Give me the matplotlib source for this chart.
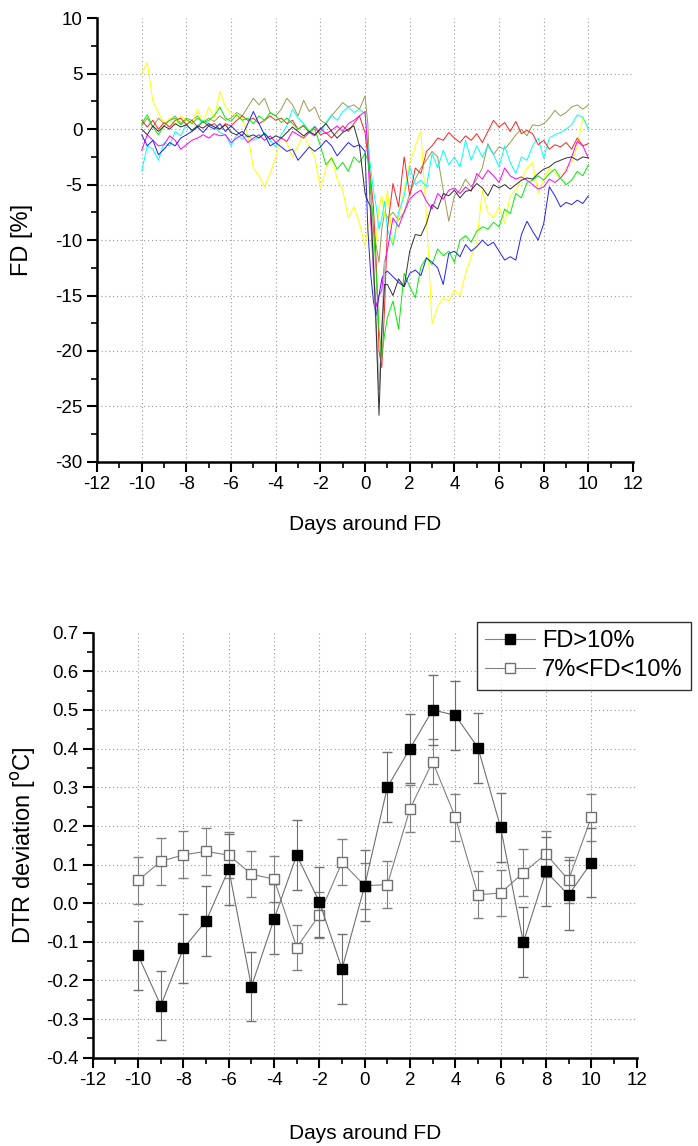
import numpy as np
import matplotlib
matplotlib.use('Agg')
import matplotlib.pyplot as plt
from matplotlib.lines import Line2D
from matplotlib.ticker import MultipleLocator, FormatStrFormatter

plt.rcParams['font.family'] = ['Liberation Sans Narrow', 'Liberation Sans', 'DejaVu Sans']
plt.rcParams['axes.unicode_minus'] = False

# days around FD, sampled finer across the onset
t = np.concatenate([np.arange(-10, 0, 0.25), np.arange(0, 1, 0.125), np.arange(1, 10.01, 0.25)])

fd_yellow = [5.0, 6.0, 2.5, 1.5, 0.5, 1.0, 0.3, 1.2,
             0.8, 0.5, 1.8, 0.5, 2.0, 1.0, 3.4, 2.0,
             1.5, 1.2, 1.0, -0.5, -3.5, -4.2, -5.2, -4.0,
             -2.5, -0.7, -1.2, -2.5, -1.5, -0.5, -1.5, -2.5,
             -5.3, -3.5, -2.5, -4.5, -5.5, -8.0, -7.0, -8.5,
             -10.5, -9.0, -8.0, -11.0, -10.0, -7.0, -6.0, -8.0,
             -5.5, -10.5, -8.0, -5.5, -3.0, -1.5, -0.2, -8.0,
             -17.5, -16.0, -15.2, -15.5, -14.5, -15.0, -13.0, -11.5,
             -10.3, -5.5, -7.5, -8.0, -7.0, -8.5, -6.0, -5.5,
             -4.5, -3.5, -3.0, -5.8, -4.5, -3.5, -4.0, -4.5,
             -3.5, -3.0, -1.5, 1.0, 0.0]
fd_olive = [0.3, 1.0, 0.2, 1.0, 0.5, 0.8, 1.2, 0.5,
            1.0, 0.8, 1.2, 0.6, 1.0, 0.7, 1.2, 0.8,
            1.0, 1.5, 1.2, 2.0, 2.8, 2.2, 2.8, 1.5,
            1.2, 1.8, 2.8, 2.2, 1.2, 2.6, 1.6, 2.0,
            0.8, 0.5, 1.2, 1.8, 2.4, 2.0, 2.2, 1.8,
            3.0, 0.5, -6.0, -9.0, -10.5, -12.0, -9.0, -7.5,
            -8.0, -7.5, -8.2, -7.5, -5.8, -4.5, -3.5, -2.8,
            -2.0, -2.5, -5.5, -8.3, -6.0, -5.5, -4.5, -5.2,
            -4.5, -3.5, -1.3, -2.3, -1.6, -1.8, -1.2, -0.5,
            0.0, -0.6, 0.4, 0.3, 0.5, 1.0, 1.7, 1.2,
            1.5, 2.0, 2.2, 1.8, 2.2]
fd_red = [0.8, 0.2, 0.8, 0.0, 0.6, 0.2, 0.8, 1.0,
          0.4, 0.8, 0.2, 0.7, 0.3, 0.5, 0.0, 0.5,
          0.3, 0.8, 1.2, 0.8, 1.0, 0.5, 0.8, 1.2,
          0.8, 1.0, 0.5, 0.8, 0.0, 0.3, -0.3, 0.2,
          -0.5, -0.3, -0.8, -0.2, 0.3, -0.2, 0.5, 1.2,
          -0.3, -2.5, -4.5, -7.0, -12.0, -20.0, -21.5, -16.0,
          -9.0, -4.9, -7.0, -2.5, -6.0, -3.5, -4.0, -2.0,
          -1.5, -0.8, -1.0, -0.3, -0.8, -1.2, -0.6, -1.0,
          -0.4, -1.2, -0.2, 0.8, 0.2, 0.6, -0.2, 0.7,
          -0.4, -0.1, -0.4, -1.4, -1.0, -1.8, -1.4, -1.6,
          -1.2, -1.8, -0.8, -1.5, -1.3]
fd_cyan = [-3.8, -1.5, -1.8, -2.8, -1.2, -1.5, -0.2, -0.6,
           0.5, -0.2, 0.3, 0.8, 0.5, 0.2, -0.3, -0.5,
           -1.5, -0.5, -0.9, -0.5, -1.0, -0.7, -0.3, -1.0,
           -1.6, -0.5, 0.3, 1.8, 1.0, 0.5, -0.2, 0.3,
           -0.3, 0.6, 1.3, 0.8, 1.6, 2.0, 1.5, 1.8,
           1.4, -1.5, -3.4, -5.5, -7.0, -9.0, -8.0, -6.5,
           -9.0, -10.5, -7.5, -6.0, -3.4, -5.0, -4.6, -5.2,
           -2.2, -3.5, -1.9, -3.2, -2.5, -3.4, -1.0, -2.8,
           -1.5, -2.5, -1.5, -2.3, -3.4, -1.5, -3.0, -4.0,
           -2.5, -2.8, -1.5, -0.8, -2.6, -0.8, -0.5, -0.3,
           0.0, 0.4, 1.3, 1.1, 0.0]
fd_magenta = [-1.9, -0.5, -1.0, -1.5, -1.4, -0.6, -1.0, -1.8,
              -1.4, -1.0, -0.8, -0.5, -0.8, -0.4, -0.6, -0.5,
              -1.2, -0.8, -0.5, -1.2, -0.8, -0.5, -1.0, -0.6,
              -1.2, -0.8, -1.1, -0.2, -0.5, -0.8, -0.3, -0.6,
              0.1, -0.4, -0.1, 0.3, -0.2, 0.5, 0.8, 1.2,
              1.6, -2.0, -8.0, -13.0, -16.0, -15.0, -14.5, -12.0,
              -10.9, -8.0, -8.8, -7.5, -6.3, -5.8, -5.5, -6.5,
              -7.2, -5.8, -6.3, -5.5, -5.3, -5.8, -5.2, -5.6,
              -4.0, -4.5, -3.7, -4.2, -4.8, -3.5, -4.2, -4.5,
              -4.3, -4.6, -5.0, -5.4, -5.2, -4.5, -4.8, -4.4,
              -3.8, -2.5, -1.1, -1.5, -2.6]
fd_green = [0.5, 1.3, 0.2, -0.5, 0.3, 0.8, 1.0, 0.4,
            0.9, 0.5, 1.0, 0.6, 0.8, 1.2, 2.0, 1.0,
            0.7, 1.3, 0.8, 1.0, 0.5, 1.2, 0.8, 1.5,
            1.2, 0.6, 1.0, 0.5, 0.0, 0.4, -0.2, 0.0,
            -1.5, -3.2, -2.6, -3.6, -3.0, -3.8, -2.5, -3.0,
            -2.2, -2.8, -5.0, -9.0, -13.0, -18.0, -20.5, -18.5,
            -17.0, -15.5, -18.0, -13.0, -14.2, -15.2, -12.4, -11.6,
            -12.2, -10.8, -11.4, -11.0, -12.0, -10.0, -9.6, -10.2,
            -9.2, -8.8, -9.0, -8.4, -8.8, -7.2, -7.6, -5.8,
            -6.2, -4.8, -4.6, -4.2, -4.6, -4.0, -3.6, -4.4,
            -5.0, -4.6, -3.8, -4.2, -3.2]
fd_blue = [-0.5, -1.5, -1.0, -2.3, -1.8, -1.2, -1.5, -0.8,
           -0.5, -0.2, 0.2, -0.3, 0.3, 0.0, 0.5, -0.2,
           0.3, -0.2, -0.6, 0.5, 1.6, 0.5, -0.5, -1.5,
           -1.2, -1.6, -2.0, -1.8, -2.8, -2.2, -1.6, -2.0,
           -1.6, -1.0, -1.5, -2.4, -1.8, -1.2, -1.6, -1.4,
           -2.0, -9.0, -13.0, -15.5, -16.8, -15.0, -13.5, -13.0,
           -12.8, -13.3, -13.8, -14.2, -13.0, -12.7, -13.2, -11.6,
           -12.0, -12.5, -14.0, -11.2, -11.0, -11.5, -10.4, -11.0,
           -10.6, -10.0, -10.5, -10.2, -11.0, -11.8, -11.5, -11.8,
           -9.5, -8.3, -9.2, -10.0, -8.5, -5.2, -6.0, -7.0,
           -6.6, -6.8, -6.4, -6.7, -6.0]
fd_black = [0.0, -0.5, 0.3, -0.2, 0.3, 0.0, 0.5, 0.2,
            0.4, -0.1, 0.3, 0.1, 0.5, 0.2, 0.0, 0.4,
            -0.3, -0.5, -0.2, -0.7, -0.5, -0.8, -0.4, -0.9,
            -0.6, -0.8, -0.3, 0.2, -0.2, -0.6, -0.2, -0.5,
            0.0, 0.5, -0.2, -0.8, -0.3, 0.0, 0.3, -1.5,
            -5.8, -6.5, -7.0, -12.0, -18.0, -25.8, -18.0, -14.0,
            -14.0, -15.0, -13.5, -14.2, -11.0, -9.5, -9.6, -8.5,
            -6.8, -7.2, -5.8, -6.0, -5.5, -6.2, -5.6, -5.5,
            -4.9, -5.3, -6.0, -5.0, -5.3, -5.0, -5.4, -5.0,
            -4.6, -4.4, -4.5, -4.0, -3.6, -3.4, -3.0, -2.8,
            -2.6, -2.5, -2.8, -2.5, -2.6]
# light grey event, only visible at the onset
t_grey = [0.25, 0.375, 0.5, 0.625, 0.75, 0.875]
fd_grey = [-6.0, -12.0, -18.0, -23.5, -19.0, -12.0]

# DTR deviation, daily means with error bars
days = np.arange(-10, 11)
dtr_high = [-0.135, -0.265, -0.117, -0.046, 0.088, -0.216, -0.041, 0.124, 0.003, -0.170, 0.045,
            0.300, 0.400, 0.500, 0.486, 0.402, 0.196, -0.101, 0.082, 0.021, 0.105]
err_high = [0.089, 0.089, 0.089, 0.090, 0.092, 0.090, 0.090, 0.090, 0.090, 0.090, 0.092,
            0.090, 0.090, 0.090, 0.090, 0.090, 0.090, 0.090, 0.090, 0.090, 0.090]
dtr_mid = [0.059, 0.108, 0.125, 0.134, 0.124, 0.075, 0.062, -0.115, -0.030, 0.106, 0.045,
           0.048, 0.244, 0.366, 0.222, 0.022, 0.026, 0.079, 0.127, 0.060, 0.222]
err_mid = [0.060, 0.060, 0.061, 0.060, 0.060, 0.060, 0.060, 0.059, 0.060, 0.060, 0.060,
           0.060, 0.061, 0.059, 0.060, 0.060, 0.060, 0.060, 0.060, 0.060, 0.060]


def style_axes(ax, xmaj, xmin, ymaj, ymin):
    for s in ['top', 'right']:
        ax.spines[s].set_visible(False)
    for s in ['left', 'bottom']:
        ax.spines[s].set_linewidth(1.8)
    ax.xaxis.set_major_locator(MultipleLocator(xmaj))
    ax.xaxis.set_minor_locator(MultipleLocator(xmin))
    ax.yaxis.set_major_locator(MultipleLocator(ymaj))
    ax.yaxis.set_minor_locator(MultipleLocator(ymin))
    ax.tick_params(which='major', direction='out', length=7, width=1.5, labelsize=13.5)
    ax.tick_params(which='minor', direction='out', length=4, width=1.2)
    # dotted grid on interior ticks only
    x0, x1 = ax.get_xlim()
    y0, y1 = ax.get_ylim()
    for v in np.arange(x0 + xmaj, x1 - xmaj / 2, xmaj):
        ax.axvline(v, color='#9a9a9a', lw=0.8, ls=(0, (1, 2.5)), zorder=0)
    for v in np.arange(y0 + ymaj, y1 - ymaj / 2, ymaj):
        ax.axhline(v, color='#9a9a9a', lw=0.8, ls=(0, (1, 2.5)), zorder=0)


fig = plt.figure(figsize=(6.98, 11.46), dpi=100)

# top panel: FD events
ax1 = fig.add_axes([0.139, 0.597, 0.768, 0.387])
ax1.set_xlim(-12, 12)
ax1.set_ylim(-30, 10)
lw = 0.7
ax1.plot(t, fd_olive, color='#9a9a50', lw=lw)
ax1.plot(t, fd_yellow, color='#ffff00', lw=lw)
ax1.plot(t, fd_cyan, color='#00ffff', lw=lw)
ax1.plot(t, fd_red, color='#ff2020', lw=lw)
ax1.plot(t, fd_magenta, color='#ff00ff', lw=lw)
ax1.plot(t, fd_green, color='#00ee00', lw=lw)
ax1.plot(t, fd_blue, color='#2020ff', lw=lw)
ax1.plot(t_grey, fd_grey, color='#b8b8b8', lw=1.2)
ax1.plot(t, fd_black, color='#303030', lw=lw)
style_axes(ax1, 2, 1, 5, 2.5)
ax1.set_xlabel('Days around FD', fontsize=15)
ax1.set_ylabel('FD [%]', fontsize=17)
ax1.xaxis.set_label_coords(0.5, -0.12)
ax1.yaxis.set_label_coords(-0.12, 0.5)

# bottom panel: DTR deviation
ax2 = fig.add_axes([0.133, 0.077, 0.779, 0.371])
ax2.set_xlim(-12, 12)
ax2.set_ylim(-0.4, 0.7)
ax2.errorbar(days, dtr_mid, yerr=err_mid, color='#808080', lw=0.8, elinewidth=0.8,
             capsize=3.5, marker='s', ms=7, mfc='white', mec='#707070', mew=1.0, zorder=3)
ax2.errorbar(days, dtr_high, yerr=err_high, color='#707070', lw=0.8, elinewidth=0.8,
             capsize=3.5, marker='s', ms=7, mfc='black', mec='black', zorder=4)
style_axes(ax2, 2, 1, 0.1, 0.05)
ax2.yaxis.set_major_formatter(FormatStrFormatter('%.1f'))
ax2.set_xlabel('Days around FD', fontsize=15)
ax2.set_ylabel('DTR deviation [$^{\\mathrm{o}}$C]', fontsize=17)
ax2.xaxis.set_label_coords(0.5, -0.155)
ax2.yaxis.set_label_coords(-0.10, 0.5)

handles = [Line2D([], [], color='#808080', lw=0.8, marker='s', ms=7, mfc='black', mec='black'),
           Line2D([], [], color='#808080', lw=0.8, marker='s', ms=7, mfc='white', mec='#707070')]
leg = ax2.legend(handles, ['FD>10%', '7%<FD<10%'], loc='upper left',
                 bbox_to_anchor=(477 / 698, 1 - 622 / 1146), bbox_transform=fig.transFigure,
                 fontsize=17, frameon=True, fancybox=False, handlelength=2.1,
                 handletextpad=0.3, borderpad=0.35, labelspacing=0.3, borderaxespad=0)
leg.get_frame().set_edgecolor('black')
leg.get_frame().set_linewidth(1.0)

fig.savefig('out.png', dpi=100)
